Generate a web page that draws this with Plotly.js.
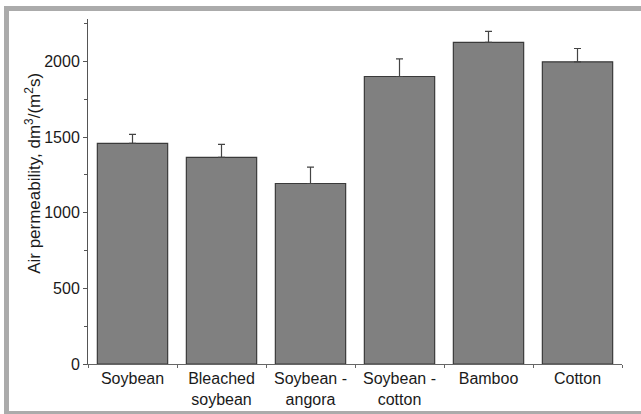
<!DOCTYPE html>
<html>
<head>
<meta charset="utf-8">
<script src="https://cdn.plot.ly/plotly-3.0.1.min.js"></script>
<style>
  html, body { margin: 0; padding: 0; overflow: hidden; background: #fff; }
  #wrap { position: relative; width: 641px; height: 414px; overflow: hidden; }
  #chart { position: absolute; left: 0; top: 0; width: 641px; height: 414px; }
  #frame { position: absolute; left: 4px; top: 6px; width: 700px; height: 410px;
           border: 5px solid #ababab; border-right: none; box-sizing: border-box; pointer-events: none; }
</style>
</head>
<body>
<div id="wrap">
  <div id="chart"></div>
  <div id="frame"></div>
</div>
<script>
const categories = ["Soybean", "Bleached<br>soybean", "Soybean -<br>angora", "Soybean -<br>cotton", "Bamboo", "Cotton"];
const permeability = [1458, 1365, 1193, 1900, 2125, 1997];
const errorUp = [60, 86, 108, 117, 73, 88];
const errorDown = [0, 0, 0, 0, 0, 0];
const yTickVals = [0, 500, 1000, 1500, 2000];
const yTitle = "Air permeability, dm<sup>3</sup>/(m<sup>2</sup>s)";

const font = {family: "Liberation Sans, Arial, sans-serif", size: 16, color: "#1a1a1a"};

const trace = {
  type: "bar",
  x: categories,
  y: permeability,
  marker: {color: "#808080", line: {color: "#3a3a3a", width: 1.2}},
  error_y: {type: "data", symmetric: false, array: errorUp, arrayminus: errorDown,
            color: "#444", thickness: 1.2, width: 3.5},
  width: 0.79,
  hoverinfo: "none"
};

const layout = {
  width: 641, height: 414,
  margin: {l: 88, r: 19, t: 19, b: 50},
  paper_bgcolor: "#fff", plot_bgcolor: "#fff",
  font: font,
  showlegend: false,
  xaxis: {
    type: "category",
    range: [-0.5, 5.5],
    tickson: "boundaries",
    ticks: "outside", ticklen: 3, tickcolor: "#666", tickwidth: 1,
    showline: true, linecolor: "#666", linewidth: 1,
    showgrid: false, zeroline: false,
    tickfont: font
  },
  yaxis: {
    range: [0, 2280],
    tickvals: yTickVals,
    ticks: "outside", ticklen: 4, tickcolor: "#555", tickwidth: 1,
    minor: {dtick: 250, tick0: 0, ticks: "outside", ticklen: 3, tickcolor: "#555", showgrid: false},
    showline: true, linecolor: "#555", linewidth: 1,
    showgrid: false, zeroline: false,
    tickfont: font
  },
  annotations: [{
    text: yTitle,
    xref: "paper", yref: "paper",
    x: -0.103, y: 0.554,
    xanchor: "center", yanchor: "middle",
    textangle: -90,
    showarrow: false,
    font: {family: font.family, size: 17, color: "#1a1a1a"}
  }]
};

Plotly.newPlot("chart", [trace], layout, {staticPlot: true, displayModeBar: false});
</script>
</body>
</html>
